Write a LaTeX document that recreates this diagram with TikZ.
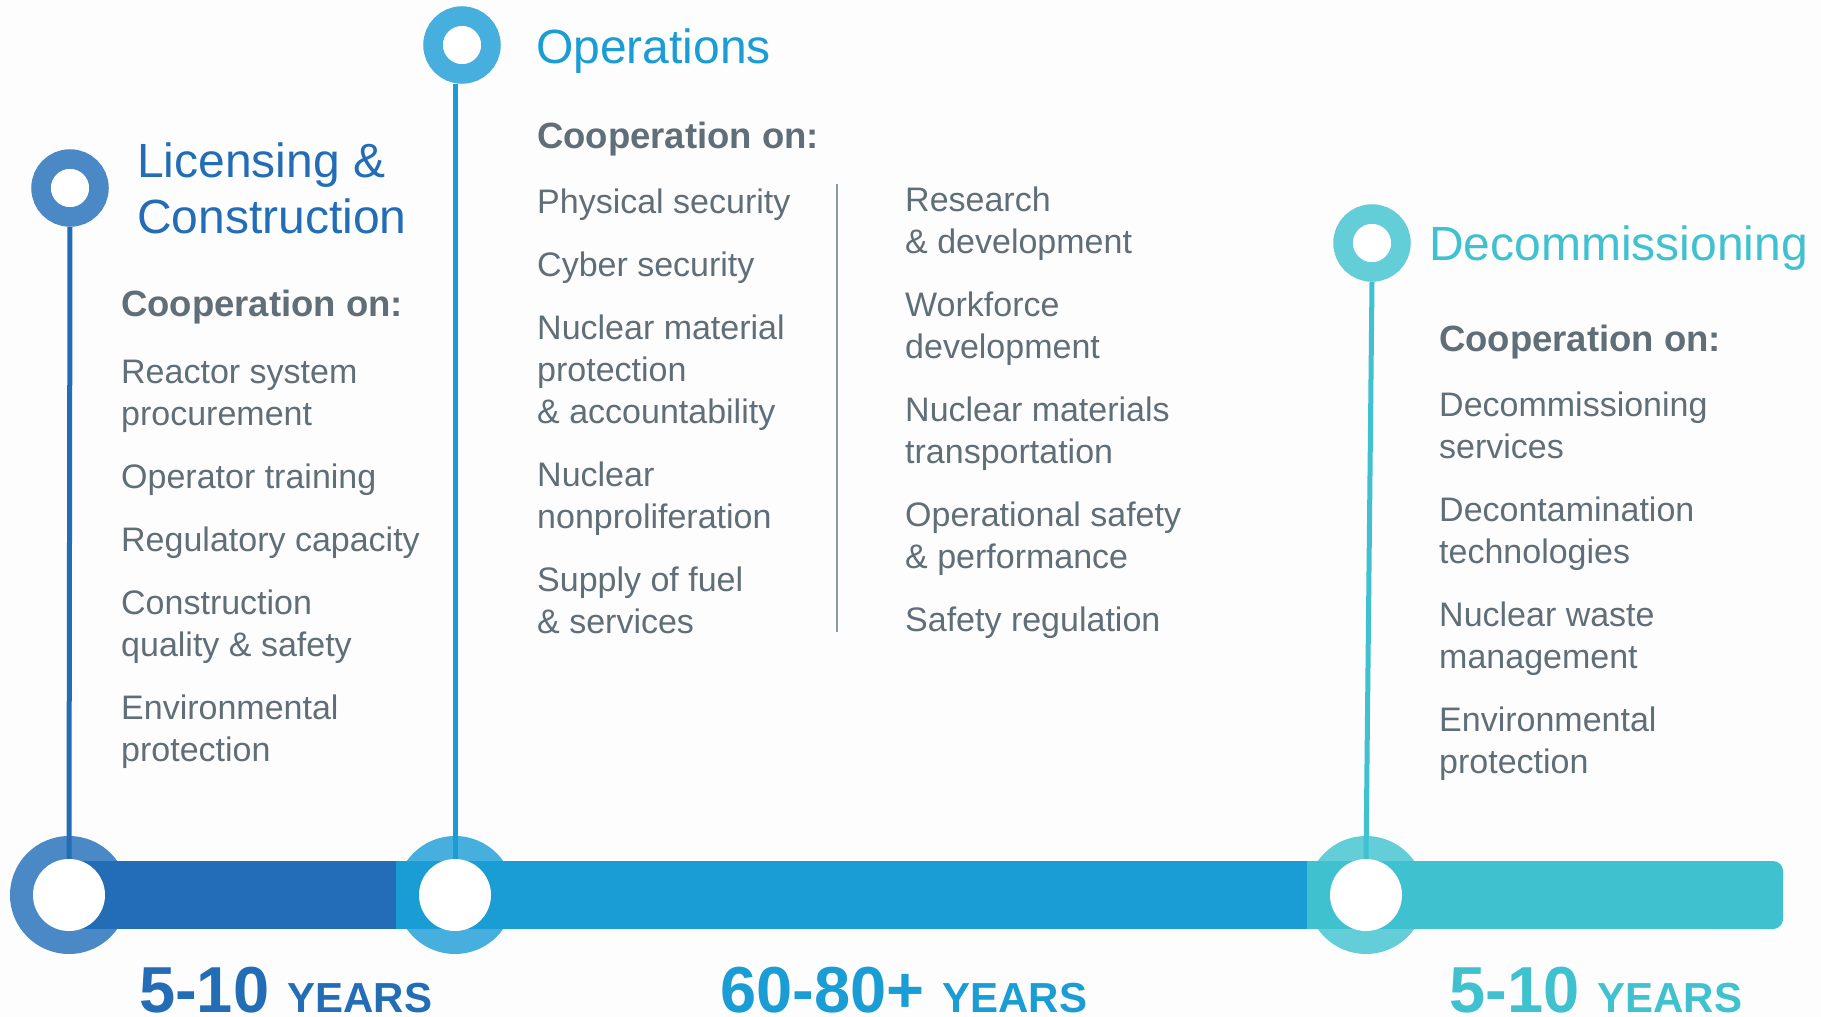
\documentclass[tikz,border=0pt]{standalone}
\usepackage{fontspec}
\setmainfont{Liberation Sans}
\usetikzlibrary{positioning,calc}

\definecolor{licblue}{RGB}{34,109,182}
\definecolor{licring}{RGB}{75,137,198}
\definecolor{opsblue}{RGB}{26,156,213}
\definecolor{opsring}{RGB}{71,175,221}
\definecolor{decblue}{RGB}{64,193,208}
\definecolor{decring}{RGB}{99,205,216}
\definecolor{bodygrey}{RGB}{96,110,120}
\definecolor{rulegrey}{RGB}{142,154,162}
\definecolor{pagebg}{RGB}{253,253,253}

% multi-line nodes sit on the baseline of their last line
\tikzset{
  item/.style={anchor=base west, inner sep=0pt, align=left, text=bodygrey, font=\fontsize{34}{42}\selectfont},
  coop/.style={item, font=\fontsize{36.5}{42}\selectfont\bfseries},
  phase/.style={anchor=base west, inner sep=0pt, align=left, font=\fontsize{48}{56}\selectfont},
  pin/.style={circle, inner sep=0pt, minimum size=58pt, line width=19.5pt, fill=white},
  halo/.style={circle, inner sep=0pt, minimum size=118pt},
  hole/.style={circle, inner sep=0pt, minimum size=72pt, fill=white},
  stem/.style={line width=5pt},
  years/.style={anchor=base west, inner sep=0pt, font=\bfseries}
}

\begin{document}
\begin{tikzpicture}[x=1pt, y=-1pt]
\fill[pagebg] (0,0) rectangle (1821,1017);
\useasboundingbox (0,0) rectangle (1821,1017);

% timeline: halos, bar, holes
\node[halo, fill=licring] (lic-halo) at (69,895) {};
\node[halo, fill=opsring] (ops-halo) at (455,895) {};
\node[halo, fill=decring] (dec-halo) at (1366,895) {};
\coordinate (bar-end) at (1783,895);
\fill[licblue] ($(lic-halo.center)+(0,-34)$) rectangle ($(ops-halo.west)+(0,34)$);
\fill[opsblue] ($(ops-halo.west)+(0,-34)$) rectangle ($(dec-halo.west)+(0,34)$);
\fill[decblue] ($(dec-halo.west)+(0,-34)$) rectangle ($(bar-end)+(-40,34)$);
\fill[decblue, rounded corners=10pt] ($(bar-end)+(-80,-34)$) rectangle ($(bar-end)+(0,34)$);
\node[hole] (lic-dot) at (lic-halo) {};
\node[hole] (ops-dot) at (ops-halo) {};
\node[hole] (dec-dot) at (dec-halo) {};

% phase pins and stems
\node[pin, draw=licring] (lic-pin) at (70,188) {};
\node[pin, draw=opsring] (ops-pin) at (462,45) {};
\node[pin, draw=decring] (dec-pin) at (1372,243) {};
\draw[stem, licblue] (lic-pin.south) -- (lic-dot.north);
\draw[stem, opsblue] (ops-dot.north) -- (ops-dot.north |- ops-pin.south);
\draw[stem, decblue] (dec-pin.south) -- (dec-dot.north);

% titles
\node[phase, text=licblue] (lic-title) at (137,233) {Licensing \&\\Construction};
\node[phase, text=opsblue] (ops-title) at (536,63) {Operations};
\node[phase, text=decblue] (dec-title) at (1429,260) {Decommissioning};

% licensing & construction
\node[coop] (lic-coop) at (121,316) {Cooperation on:};
\foreach \y/\txt [count=\i] in {425/{Reactor system\\procurement}, 488/{Operator training},
    551/{Regulatory capacity}, 656/{Construction\\quality \& safety}, 761/{Environmental\\protection}}
  \node[item] (lic-item\i) at (121,\y) {\txt};

% operations, two columns
\node[coop] (ops-coop) at (537,148) {Cooperation on:};
\foreach \y/\txt [count=\i] in {213/{Physical security}, 276/{Cyber security},
    423/{Nuclear material\\protection\\\& accountability}, 528/{Nuclear\\nonproliferation},
    633/{Supply of fuel\\\& services}}
  \node[item] (ops-left\i) at (537,\y) {\txt};
\draw[rulegrey, line width=2pt] (837,184) -- (837,632);
\foreach \y/\txt [count=\i] in {253/{Research\\\& development}, 358/{Workforce\\development},
    463/{Nuclear materials\\transportation}, 568/{Operational safety\\\& performance},
    631/{Safety regulation}}
  \node[item] (ops-right\i) at (905,\y) {\txt};

% decommissioning
\node[coop] (dec-coop) at (1439,351) {Cooperation on:};
\foreach \y/\txt [count=\i] in {458/{Decommissioning\\services}, 563/{Decontamination\\technologies},
    668/{Nuclear waste\\management}, 773/{Environmental\\protection}}
  \node[item] (dec-item\i) at (1439,\y) {\txt};

% durations
\node[years, text=licblue] (lic-years) at (139,1012) {\fontsize{65}{65}\selectfont 5-10 \fontsize{42}{42}\selectfont YEARS};
\node[years, text=opsblue] (ops-years) at (720,1012) {\fontsize{65}{65}\selectfont 60-80+ \fontsize{42}{42}\selectfont YEARS};
\node[years, text=decblue] (dec-years) at (1449,1012) {\fontsize{65}{65}\selectfont 5-10 \fontsize{42}{42}\selectfont YEARS};
\end{tikzpicture}
\end{document}
